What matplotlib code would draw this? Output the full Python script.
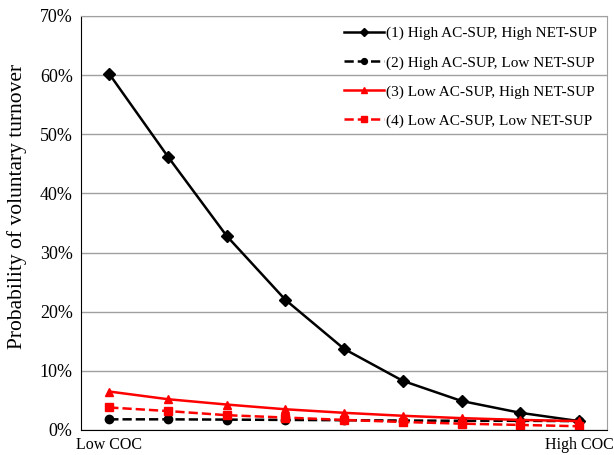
import numpy as np
import matplotlib.pyplot as plt
from matplotlib.ticker import PercentFormatter

plt.rcParams['font.family'] = ['Liberation Serif', 'DejaVu Serif']

# predicted probability of voluntary turnover (%) at 9 levels of COC
x = np.arange(9)
s1 = [60.2, 46.2, 32.8, 22.0, 13.7, 8.3, 4.9, 2.9, 1.5]
s2 = [1.8, 1.8, 1.75, 1.7, 1.65, 1.6, 1.55, 1.55, 1.5]
s3 = [6.5, 5.2, 4.3, 3.5, 2.9, 2.4, 2.0, 1.7, 1.5]
s4 = [3.8, 3.2, 2.5, 2.1, 1.7, 1.35, 1.07, 0.85, 0.63]
labels = ['(1) High AC-SUP, High NET-SUP', '(2) High AC-SUP, Low NET-SUP',
          '(3) Low AC-SUP, High NET-SUP', '(4) Low AC-SUP, Low NET-SUP']
xticks = ['Low COC', 'High COC']

fig = plt.figure(figsize=(6.14, 4.55), dpi=100)
ax = fig.add_axes([0.132, 0.055, 0.857, 0.910])

ax.plot(x, s1, color='black', lw=1.8, marker='D', ms=6, label=labels[0])
ax.plot(x, s2, color='black', lw=1.8, ls='--', marker='o', ms=6, label=labels[1])
ax.plot(x, s3, color='red', lw=1.8, marker='^', ms=6, label=labels[2])
ax.plot(x, s4, color='red', lw=1.8, ls='--', marker='s', ms=6, label=labels[3])

ax.set_xlim(-0.48, 8.48)
ax.set_ylim(0, 70)
ax.set_yticks(np.arange(0, 71, 10))
ax.yaxis.set_major_formatter(PercentFormatter(decimals=0))
ax.yaxis.grid(True, color='#a0a0a0', lw=1)
ax.set_axisbelow(True)
ax.set_xticks([0, 8])
ax.set_xticklabels(xticks)
ax.tick_params(axis='x', length=0, labelsize=11.5, pad=5)
ax.tick_params(axis='y', length=0, labelsize=13, pad=6)
ax.set_ylabel('Probability of voluntary turnover', fontsize=15.5)
ax.yaxis.set_label_coords(-0.103, 0.54)

for s in ['top', 'right']:
    ax.spines[s].set_color('#a0a0a0')
for s in ['left', 'bottom']:
    ax.spines[s].set_color('black')

ax.legend(loc='upper right', bbox_to_anchor=(1.0, 1.0), frameon=False,
          fontsize=11, handlelength=2.6, labelspacing=1.0, borderaxespad=0.3,
          handletextpad=0.1, markerscale=0.7)

fig.savefig('out.png', dpi=100)
